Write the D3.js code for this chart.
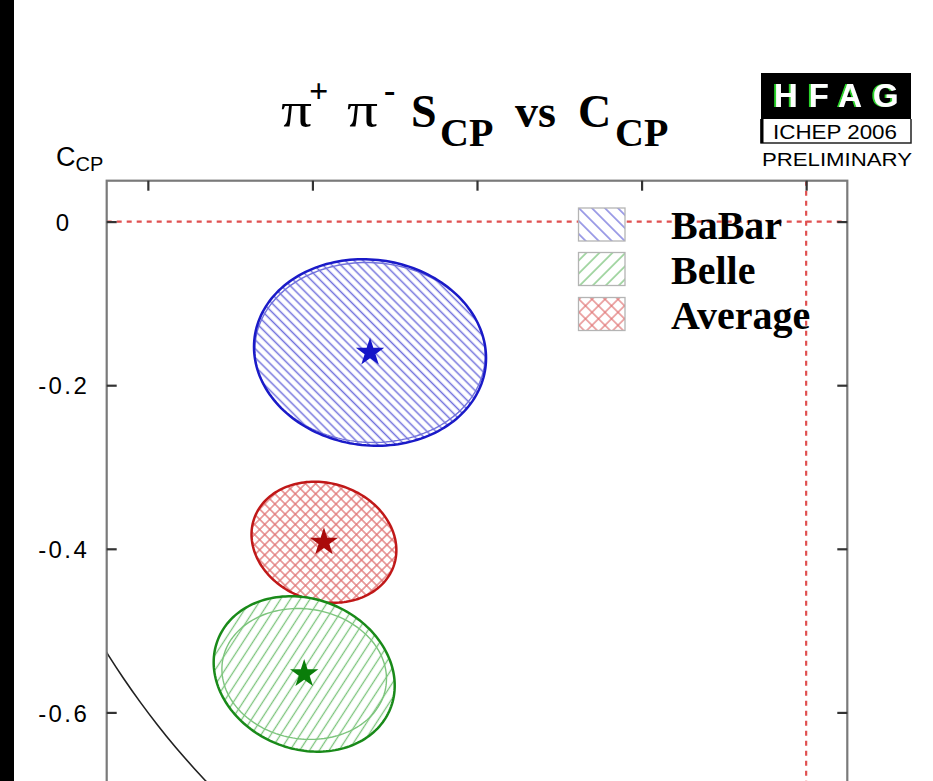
<!DOCTYPE html>
<html>
<head>
<meta charset="utf-8">
<script src="https://cdn.jsdelivr.net/npm/d3@7"></script>
<style>
  html, body { margin: 0; padding: 0; background: #fff; }
  svg { display: block; }
</style>
</head>
<body>
<script>
// pi+ pi- time-dependent CP asymmetries: S_CP (horizontal) vs C_CP (vertical)
const experiments   = ["BaBar", "Belle", "Average"];
const sValues       = [-0.53, -0.61, -0.586];
const cValues       = [-0.16, -0.553, -0.392];
const sErrTotal     = [0.141, 0.11, 0.088];
const cErrTotal     = [0.114, 0.095, 0.074];
const sErrStat      = [0.14, 0.10, null];
const cErrStat      = [0.11, 0.08, null];
const correlations  = [-0.06, -0.15, -0.13];
const yTickValues   = [0, -0.2, -0.4, -0.6];
const xTickValues   = [-0.8, -0.6, -0.4, -0.2, 0];

const lineColors  = ["#1a1ac8", "#198a19", "#c01818"];
const hatchColors = ["#7272dc", "#7cc47c", "#e07474"];
const starColors  = ["#1515c8", "#0a7d0a", "#aa0a0a"];

const W = 933, H = 781;
const svg = d3.select("body").append("svg").attr("width", W).attr("height", H);
svg.append("rect").attr("width", W).attr("height", H).attr("fill", "#fff");

// dark strip on the left edge
svg.append("rect").attr("x", 0).attr("y", 0).attr("width", 14).attr("height", H).attr("fill", "#000");

const x = d3.scaleLinear().domain([-0.85, 0.05]).range([106.7, 847.3]);
const y = d3.scaleLinear().domain([0.05, -1.05]).range([180.7, 1080.5]);

const defs = svg.append("defs");
defs.append("clipPath").attr("id", "plot-area")
  .append("rect")
  .attr("x", x(-0.85)).attr("y", y(0.05))
  .attr("width", x(0.05) - x(-0.85)).attr("height", y(-1.05) - y(0.05));

// green edge on the logo letters
const glow = defs.append("filter").attr("id", "logo-edge")
  .attr("x", "-20%").attr("y", "-20%").attr("width", "140%").attr("height", "140%");
glow.append("feOffset").attr("in", "SourceAlpha").attr("dx", -2.5).attr("dy", 0).attr("result", "off");
glow.append("feFlood").attr("flood-color", "#2bd42b").attr("result", "green");
glow.append("feComposite").attr("in", "green").attr("in2", "off").attr("operator", "in").attr("result", "shadow");
const merge = glow.append("feMerge");
merge.append("feMergeNode").attr("in", "shadow");
merge.append("feMergeNode").attr("in", "SourceGraphic");

// hatch patterns: one for the plot, one (coarser) for the legend swatches
function hatch(id, angle, spacing, color, width, cross) {
  const p = defs.append("pattern").attr("id", id)
    .attr("patternUnits", "userSpaceOnUse")
    .attr("width", spacing).attr("height", spacing)
    .attr("patternTransform", `rotate(${angle})`);
  p.append("line").attr("x1", spacing / 2).attr("y1", -1).attr("x2", spacing / 2).attr("y2", spacing + 1)
    .attr("stroke", color).attr("stroke-width", width);
  if (cross) {
    p.append("line").attr("x1", -1).attr("y1", spacing / 2).attr("x2", spacing + 1).attr("y2", spacing / 2)
      .attr("stroke", color).attr("stroke-width", width);
  }
}
hatch("h0", -45, 6.3, hatchColors[0], 1.5, false);
hatch("h1", 33, 8.2, hatchColors[1], 1.3, false);
hatch("h2", 45, 7.2, hatchColors[2], 1.3, true);
hatch("l0", -45, 9.2, hatchColors[0], 1.3, false);
hatch("l1", 45, 9.2, hatchColors[1], 1.3, false);
hatch("l2", 45, 9.2, hatchColors[2], 1.2, true);

const plot = svg.append("g").attr("clip-path", "url(#plot-area)");

// physical boundary S^2 + C^2 = 1
const circle = d3.range(0, 361, 1).map(a => [Math.cos(a * Math.PI / 180), Math.sin(a * Math.PI / 180)]);
plot.append("path")
  .attr("d", d3.line().x(d => x(d[0])).y(d => y(d[1]))(circle))
  .attr("fill", "none").attr("stroke", "#222").attr("stroke-width", 1.6);

// zero reference lines
plot.append("line")
  .attr("x1", x(-0.85)).attr("x2", x(0.05)).attr("y1", y(0)).attr("y2", y(0))
  .attr("stroke", "#e05050").attr("stroke-width", 2.2).attr("stroke-dasharray", "5,5");
plot.append("line")
  .attr("x1", x(0)).attr("x2", x(0)).attr("y1", y(0.05)).attr("y2", y(-1.05))
  .attr("stroke", "#e05050").attr("stroke-width", 2.2).attr("stroke-dasharray", "5,5");

// 1-sigma contours from the errors and S-C correlation
function contour(s0, c0, ss, sc, rho) {
  return d3.range(0, 360, 2).map(a => {
    const t = a * Math.PI / 180;
    return [x(s0 + ss * Math.cos(t)),
            y(c0 + sc * (rho * Math.cos(t) + Math.sqrt(1 - rho * rho) * Math.sin(t)))];
  });
}
const closed = d3.line().curve(d3.curveLinearClosed);

const drawOrder = [0, 2, 1];
drawOrder.forEach(i => {
  const g = plot.append("g");
  const outer = closed(contour(sValues[i], cValues[i], sErrTotal[i], cErrTotal[i], correlations[i]));
  g.append("path").attr("d", outer).attr("fill", "#fff");
  g.append("path").attr("d", outer).attr("fill", `url(#h${i})`);
  if (sErrStat[i] !== null) {
    g.append("path")
      .attr("d", closed(contour(sValues[i], cValues[i], sErrStat[i], cErrStat[i], correlations[i] * 0.5)))
      .attr("fill", "none").attr("stroke", hatchColors[i]).attr("stroke-width", 1.4);
  }
  g.append("path").attr("d", outer)
    .attr("fill", "none").attr("stroke", lineColors[i]).attr("stroke-width", 2.5);
});

// central values
const star = d3.symbol().type(d3.symbolStar).size(250);
experiments.forEach((name, i) => {
  plot.append("path").attr("d", star())
    .attr("transform", `translate(${x(sValues[i])},${y(cValues[i])})`)
    .attr("fill", starColors[i]);
});

// frame
svg.append("rect")
  .attr("x", x(-0.85)).attr("y", y(0.05))
  .attr("width", x(0.05) - x(-0.85)).attr("height", y(-1.05) - y(0.05))
  .attr("fill", "none").attr("stroke", "#7a7a7a").attr("stroke-width", 2.2);

// axes with inward ticks
const styleAxis = g => {
  g.select(".domain").remove();
  g.selectAll(".tick line").attr("stroke", "#333").attr("stroke-width", 2.2);
};
svg.append("g").attr("transform", `translate(${x(-0.85)},0)`)
  .call(d3.axisLeft(y).tickValues(yTickValues).tickSizeInner(-10).tickSizeOuter(0)
    .tickPadding(0).tickFormat(d => d === 0 ? "0" : d.toFixed(1)))
  .call(styleAxis)
  .call(g => g.selectAll(".tick text")
    .attr("x", -43).attr("dy", "0.36em").attr("text-anchor", "middle")
    .attr("letter-spacing", 2.4)
    .attr("font-family", "'Liberation Sans', Arial, sans-serif")
    .attr("font-size", 24).attr("fill", "#000"));
svg.append("g").attr("transform", `translate(${x(0.05)},0)`)
  .call(d3.axisRight(y).tickValues(yTickValues).tickSizeInner(-10).tickSizeOuter(0).tickFormat(""))
  .call(styleAxis);
svg.append("g").attr("transform", `translate(0,${y(0.05)})`)
  .call(d3.axisTop(x).tickValues(xTickValues).tickSizeInner(-10).tickSizeOuter(0).tickFormat(""))
  .call(styleAxis);

// vertical axis title
const yTitle = svg.append("text").attr("x", 56).attr("y", 166)
  .attr("font-family", "'Liberation Sans', Arial, sans-serif").attr("fill", "#000");
yTitle.append("tspan").attr("font-size", 27).text("C");
yTitle.append("tspan").attr("font-size", 20).attr("dy", 5).text("CP");

// title
const serif = "'Liberation Serif', 'Times New Roman', serif";
const titleParts = [
  { t: "\u03c0", x: 281, y: 127, s: 50, w: "normal", len: 31 },
  { t: "+",      x: 309, y: 102, s: 34, w: "bold",   len: null },
  { t: "\u03c0", x: 347, y: 127, s: 50, w: "normal", len: 31 },
  { t: "-",      x: 384, y: 102, s: 34, w: "bold",   len: null },
  { t: "S",      x: 411, y: 127, s: 46, w: "bold",   len: null },
  { t: "CP",     x: 440, y: 146, s: 40, w: "bold",   len: null },
  { t: "vs",     x: 515, y: 127, s: 46, w: "bold",   len: null },
  { t: "C",      x: 578, y: 127, s: 46, w: "bold",   len: null },
  { t: "CP",     x: 615, y: 146, s: 40, w: "bold",   len: null }
];
svg.append("g").selectAll("text").data(titleParts).join("text")
  .attr("x", d => d.x).attr("y", d => d.y)
  .attr("font-family", serif).attr("font-size", d => d.s).attr("font-weight", d => d.w)
  .attr("textLength", d => d.len).attr("lengthAdjust", "spacingAndGlyphs")
  .attr("fill", "#000").text(d => d.t);

// legend
const legendY = [208, 252.5, 297.5];
const legend = svg.append("g");
experiments.forEach((name, i) => {
  legend.append("rect").attr("x", 578.5).attr("y", legendY[i]).attr("width", 46.5).attr("height", 33)
    .attr("fill", "#fff");
  legend.append("rect").attr("x", 578.5).attr("y", legendY[i]).attr("width", 46.5).attr("height", 33)
    .attr("fill", `url(#l${i})`).attr("stroke", "#b4b4b4").attr("stroke-width", 1.3);
  legend.append("text").attr("x", 671).attr("y", legendY[i] + 31)
    .attr("font-family", serif).attr("font-weight", "bold").attr("font-size", 40)
    .attr("fill", "#000").text(name);
});

// group logo
const logo = svg.append("g");
logo.append("rect").attr("x", 761).attr("y", 73).attr("width", 150).attr("height", 46).attr("fill", "#000");
logo.append("path").attr("d", "M761,119 V143 H911 V119")
  .attr("fill", "none").attr("stroke", "#222").attr("stroke-width", 1.5);
logo.append("line").attr("x1", 762).attr("x2", 762).attr("y1", 119).attr("y2", 143)
  .attr("stroke", "#000").attr("stroke-width", 3);
logo.append("text").attr("x", 774).attr("y", 107)
  .attr("font-family", "'Liberation Sans', Arial, sans-serif").attr("font-weight", "bold")
  .attr("font-size", 33).attr("letter-spacing", 11).attr("fill", "#fff")
  .attr("filter", "url(#logo-edge)").text("HFAG");
logo.append("text").attr("x", 773).attr("y", 139)
  .attr("font-family", "'Liberation Sans', Arial, sans-serif").attr("font-size", 20)
  .attr("textLength", 124).attr("lengthAdjust", "spacingAndGlyphs").attr("fill", "#000").text("ICHEP 2006");
logo.append("text").attr("x", 762).attr("y", 166)
  .attr("font-family", "'Liberation Sans', Arial, sans-serif").attr("font-size", 19)
  .attr("textLength", 150).attr("lengthAdjust", "spacingAndGlyphs").attr("fill", "#000").text("PRELIMINARY");
</script>
</body>
</html>
